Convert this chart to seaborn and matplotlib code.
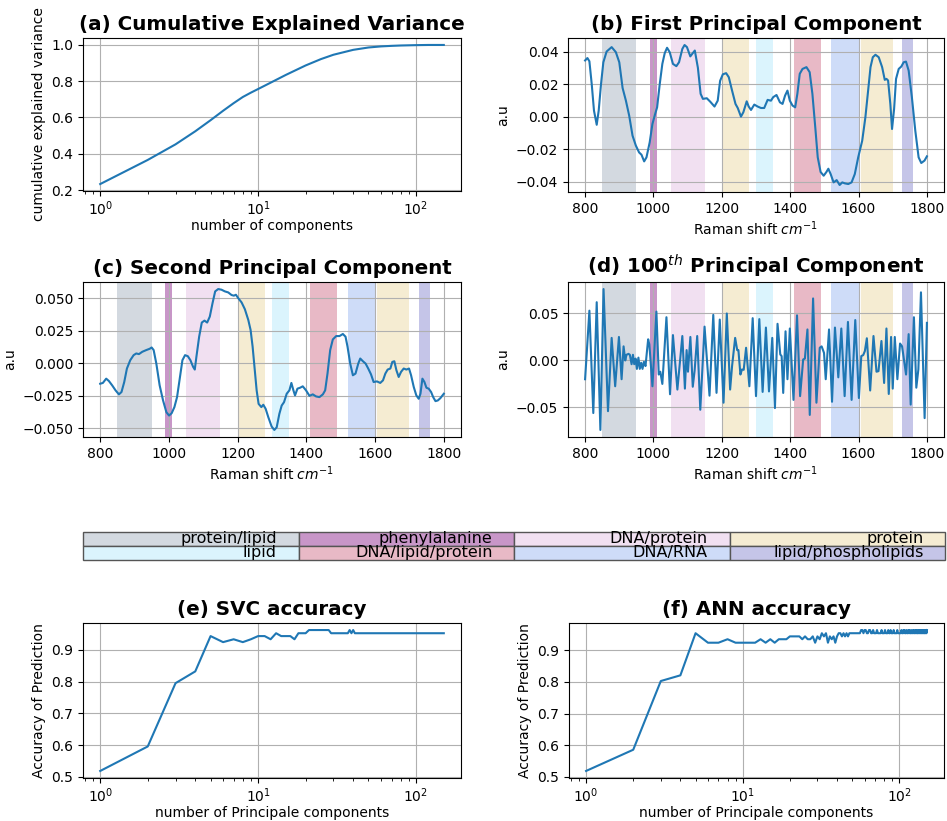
import numpy as np
import pandas as pd
import matplotlib
matplotlib.use("Agg")
import matplotlib.pyplot as plt
import seaborn as sns

# ---------------- data ----------------
# (a) cumulative explained variance
var_n = [1, 2, 3, 4, 5, 6, 7, 8, 9, 10, 12, 15, 20, 25, 30, 40, 50, 60, 70, 80, 100, 120, 150]
var_v = [0.233, 0.366, 0.452, 0.524, 0.585, 0.637, 0.679, 0.713, 0.737, 0.757, 0.792, 0.835,
         0.887, 0.922, 0.946, 0.973, 0.986, 0.992, 0.995, 0.997, 0.999, 1.0, 1.0]

# (b) first principal component
pc1_x = [800, 806.8, 812.6, 819.4, 826, 834, 839.8, 846.6, 853.4, 863, 877.7, 890, 900, 909.7,
         919.4, 929, 938.8, 948.5, 958, 965, 972.8, 979.6, 989, 997, 1004.9, 1010.7, 1018.4, 1026,
         1033, 1039.8, 1047.6, 1057, 1067, 1074.8, 1084.5, 1091, 1098, 1107.8, 1113.6, 1121, 1130,
         1138, 1144.7, 1156, 1166, 1178.6, 1188, 1195, 1203, 1212.6, 1220.4, 1230, 1240, 1246.6,
         1256, 1263, 1272.8, 1278.6, 1285.4, 1295, 1304.8, 1314.6, 1324, 1334, 1343.7, 1350.5, 1360,
         1370, 1377.7, 1385, 1392, 1399, 1406.8, 1414.6, 1421, 1428, 1436, 1447.6, 1457, 1465,
         1473.8, 1480.6, 1489, 1498, 1506, 1511.7, 1518.4, 1527, 1536, 1544.7, 1552.4, 1560, 1570,
         1579.6, 1589, 1599, 1610.7, 1620, 1628, 1635, 1641.7, 1649.5, 1659, 1669, 1676.7, 1681.6,
         1686.4, 1693, 1698, 1704, 1709.7, 1717.5, 1725.2, 1732, 1738.8, 1746.6, 1756, 1766,
         1775.7, 1783.5, 1793, 1800]
pc1_y = [0.0345, 0.036, 0.034, 0.020, 0.0037, -0.005, 0.0037, 0.020, 0.0334, 0.040, 0.0427,
         0.0396, 0.0334, 0.0176, 0.0098, 0.0006, -0.0117, -0.0178, -0.022, -0.0234, -0.0275,
         -0.025, -0.0158, -0.0045, 0.0016, 0.0057, 0.020, 0.0324, 0.039, 0.0423, 0.0396, 0.0324,
         0.031, 0.0334, 0.0416, 0.044, 0.0427, 0.037, 0.0386, 0.0406, 0.030, 0.014, 0.0109, 0.0113,
         0.0092, 0.0062, 0.0098, 0.022, 0.026, 0.0267, 0.0242, 0.016, 0.0078, 0.0053, 0.0, 0.0027,
         0.0094, 0.0062, 0.0041, 0.0074, 0.0062, 0.0053, 0.0053, 0.0103, 0.0098, 0.012, 0.0133,
         0.0088, 0.0078, 0.0129, 0.016, 0.0098, 0.0068, 0.0057, 0.014, 0.0263, 0.0293, 0.0304,
         0.0273, 0.014, -0.0076, -0.025, -0.034, -0.0363, -0.034, -0.032, -0.0353, -0.0404, -0.039,
         -0.042, -0.0404, -0.041, -0.0414, -0.0404, -0.0353, -0.025, -0.0148, -0.0004, 0.016,
         0.0304, 0.0365, 0.038, 0.0365, 0.0304, 0.0226, 0.0232, 0.0222, 0.0078, -0.0076, 0.0047,
         0.0232, 0.0293, 0.0308, 0.0334, 0.0338, 0.0283, 0.012, -0.0086, -0.025, -0.0285, -0.027,
         -0.0244]

# (c) second principal component
pc2_x = [800, 807.8, 817.5, 825.3, 835, 844.7, 854.5, 862, 870, 877.8, 887.5, 897.3, 905, 912.8,
         922.6, 934, 944, 949.8, 955.6, 963.4, 973, 983, 992.6, 1000.4, 1008, 1016, 1023.7, 1031.5,
         1039.3, 1047, 1055, 1062.6, 1070.4, 1075.3, 1080, 1088, 1095.7, 1103.5, 1111.3, 1119, 1127,
         1134.6, 1143.4, 1153, 1162.8, 1172.6, 1182.3, 1189, 1195, 1201.7, 1211.5, 1221, 1231,
         1237.7, 1243.6, 1249.4, 1255.3, 1261, 1269, 1274.7, 1281.5, 1289.3, 1299, 1306.8, 1313.6,
         1321.4, 1328.2, 1335, 1342.8, 1350.6, 1356.4, 1362.3, 1367, 1374, 1381.7, 1389.5, 1399,
         1409, 1418.7, 1428.4, 1438, 1448, 1454.7, 1461.5, 1469.3, 1477, 1486.8, 1496.5, 1506.2,
         1514, 1519.8, 1527.6, 1535.4, 1543, 1551, 1556.8, 1564.6, 1572.4, 1580, 1588, 1595.7,
         1605.4, 1615, 1623, 1629.8, 1636.6, 1644.4, 1650.2, 1656, 1662, 1668.7, 1675.5, 1683.3,
         1691, 1698.8, 1704.7, 1712.5, 1720, 1727, 1732, 1737.7, 1743.6, 1749.4, 1756, 1763, 1769,
         1775.7, 1782.5, 1790, 1800]
pc2_y = [-0.0158, -0.0152, -0.0119, -0.0137, -0.0171, -0.0209, -0.024, -0.0222, -0.0145, -0.0041,
         0.0023, 0.0062, 0.0075, 0.007, 0.0088, 0.0101, 0.0111, 0.0121, 0.0101, -0.0003, -0.017,
         -0.0287, -0.0377, -0.0403, -0.0385, -0.0338, -0.0261, -0.0119, 0.0023, 0.0062, 0.0054,
         0.0023, -0.0028, -0.0049, 0.0049, 0.0204, 0.0313, 0.0328, 0.0313, 0.0359, 0.0463, 0.0553,
         0.0571, 0.0566, 0.0553, 0.0545, 0.0525, 0.052, 0.0527, 0.0501, 0.0468, 0.0416, 0.0333,
         0.0256, 0.0127, -0.0041, -0.0209, -0.0313, -0.0338, -0.032, -0.0351, -0.0416, -0.0488,
         -0.0514, -0.0494, -0.039, -0.0326, -0.030, -0.0235, -0.0209, -0.0152, -0.0209, -0.0248,
         -0.0196, -0.0189, -0.0178, -0.0209, -0.0251, -0.024, -0.0256, -0.0261, -0.024, -0.0209,
         -0.008, 0.0101, 0.0183, 0.0209, 0.0209, 0.0225, 0.0204, 0.0127, -0.0003, -0.0093, -0.008,
         -0.0003, 0.0036, 0.0015, -0.0003, -0.0041, -0.0085, -0.0145, -0.014, -0.0152, -0.0132,
         -0.008, -0.0049, -0.0041, 0.001, 0.0015, -0.0054, -0.0106, -0.0067, -0.0041, -0.0049,
         -0.0041, -0.0093, -0.0183, -0.0248, -0.0274, -0.0235, -0.0119, -0.0145, -0.0189, -0.0196,
         -0.0222, -0.0261, -0.0292, -0.0287, -0.0269, -0.0235]

# (d) 100th principal component
pc100_x = [800, 812.6, 824, 834, 844.7, 854, 867, 877.7, 888, 899, 906.8, 912.6, 917.5, 921, 927,
           931, 936, 940, 943.7, 947.6, 951.5, 956, 960, 964, 968, 972, 976.7, 984.5, 988, 997,
           1008.6, 1015.5, 1020, 1026, 1038, 1048.5, 1057, 1070, 1084.5, 1092, 1097, 1101, 1108,
           1115, 1120.4, 1128, 1137, 1149.5, 1164, 1175, 1184.5, 1194, 1205, 1214.6, 1224.3, 1230,
           1239, 1245, 1248.5, 1254.4, 1259, 1264, 1271, 1280.6, 1290.3, 1300, 1309.7, 1319.4, 1329,
           1338, 1347.6, 1355.4, 1363, 1371, 1375, 1379.6, 1386.4, 1392, 1399, 1409.7, 1420, 1429,
           1438, 1443, 1450.5, 1457.3, 1467, 1476.8, 1486.5, 1492, 1499, 1504, 1513.7, 1522.4, 1531,
           1540.8, 1549.6, 1559.3, 1569, 1579.7, 1590.4, 1601, 1608, 1613.7, 1618.5, 1624.3, 1634,
           1643.7, 1652.5, 1658.3, 1667, 1674.8, 1681.6, 1688.4, 1695.2, 1700, 1706, 1713.6, 1721.4,
           1727.3, 1739, 1746.6, 1752.5, 1762, 1769, 1775, 1782.6, 1793.3, 1800]
pc100_y = [-0.020, 0.053, -0.056, 0.062, -0.074, 0.076, -0.054, 0.024, -0.0275, 0.025, -0.020,
           0.015, 0.0, 0.006, 0.007, 0.006, -0.004, 0.006, -0.004, 0.002, -0.009, 0.003, -0.009,
           -0.0025, -0.009, -0.0015, -0.006, 0.0225, 0.017, -0.0275, 0.052, -0.015, -0.012, -0.025,
           0.046, -0.036, 0.027, -0.031, 0.026, -0.030, 0.011, -0.012, 0.025, -0.028, -0.011, 0.026,
           -0.0525, 0.036, -0.0375, 0.0485, -0.0345, 0.0435, -0.045, 0.050, -0.031, -0.006, 0.024,
           0.011, 0.011, -0.015, -0.0096, -0.010, 0.0135, -0.0275, 0.045, -0.038, 0.044, -0.0335,
           0.035, -0.033, 0.024, -0.0507, 0.039, 0.0064, 0.0046, -0.0346, 0.031, -0.020, 0.034,
           -0.042, 0.048, -0.038, 0.001, 0.002, 0.033, -0.058, 0.066, -0.045, 0.0135, 0.015, 0.008,
           -0.020, 0.033, -0.044, 0.035, -0.018, 0.034, -0.038, 0.041, -0.042, 0.043, -0.040, 0.0046,
           0.0057, 0.010, 0.0236, -0.032, 0.026, -0.012, -0.0114, 0.0207, -0.024, 0.034, -0.0357,
           0.025, -0.030, 0.025, -0.020, 0.018, 0.015, -0.015, 0.028, -0.047, 0.046, -0.029, -0.0096,
           0.0725, -0.0614, 0.040]

# (e) SVC accuracy
svc_n = list(range(1, 43)) + [150]
svc_v = [0.519, 0.596, 0.795, 0.832, 0.943, 0.924, 0.933, 0.924, 0.933, 0.943,
         0.943, 0.933, 0.952, 0.943, 0.943, 0.943, 0.933, 0.952, 0.952, 0.952,
         0.962, 0.962, 0.962, 0.962, 0.962, 0.962, 0.962, 0.962, 0.952, 0.952,
         0.952, 0.952, 0.952, 0.952, 0.952, 0.952, 0.952, 0.962, 0.952, 0.962,
         0.952, 0.952, 0.952]

# (f) ANN accuracy
ann_n = list(range(1, 151))
ann_v = [0.519, 0.586, 0.803, 0.821, 0.954, 0.924, 0.924, 0.935, 0.924, 0.924,
         0.924, 0.924, 0.935, 0.924, 0.935, 0.924, 0.935, 0.935, 0.935, 0.944,
         0.944, 0.944, 0.944, 0.935, 0.944, 0.935, 0.935, 0.944, 0.924, 0.944,
         0.935, 0.954, 0.944, 0.954, 0.924, 0.944, 0.935, 0.944, 0.924, 0.944,
         0.954, 0.954, 0.944, 0.954, 0.944, 0.954, 0.944, 0.954, 0.954, 0.954,
         0.954, 0.954, 0.954, 0.954, 0.954, 0.954, 0.964, 0.964, 0.954, 0.964,
         0.964, 0.954, 0.954, 0.964, 0.964, 0.954, 0.954, 0.964, 0.954, 0.954,
         0.954, 0.964, 0.954, 0.954, 0.954, 0.954, 0.964, 0.954, 0.954, 0.954,
         0.964, 0.954, 0.954, 0.954, 0.964, 0.954, 0.954, 0.964, 0.954, 0.954,
         0.954, 0.964, 0.954, 0.954, 0.954, 0.954, 0.964, 0.954, 0.954, 0.954,
         0.954, 0.954, 0.964, 0.954, 0.954, 0.964, 0.954, 0.964, 0.954, 0.954,
         0.964, 0.954, 0.954, 0.964, 0.954, 0.964, 0.954, 0.954, 0.964, 0.954,
         0.954, 0.964, 0.954, 0.964, 0.954, 0.954, 0.964, 0.954, 0.964, 0.954,
         0.954, 0.964, 0.954, 0.964, 0.954, 0.964, 0.954, 0.954, 0.964, 0.954,
         0.964, 0.954, 0.964, 0.954, 0.954, 0.964, 0.954, 0.964, 0.954, 0.964]

# Raman band regions
band_start = [850, 990, 1050, 1200, 1300, 1410, 1520, 1607, 1728]
band_end = [950, 1010, 1150, 1280, 1350, 1490, 1600, 1700, 1760]
band_label = ["protein/lipid", "phenylalanine", "DNA/protein", "protein", "lipid",
              "DNA/lipid/protein", "DNA/RNA", "protein", "lipid/phospholipids"]
label_colors = {"protein/lipid": "#d3d9e0", "phenylalanine": "#c896c8",
                "DNA/protein": "#f1e0f1", "protein": "#f5ecd2", "lipid": "#dbf4fd",
                "DNA/lipid/protein": "#e8b9c6", "DNA/RNA": "#cedcf8",
                "lipid/phospholipids": "#c5c5e8"}
legend_rows = [["protein/lipid", "phenylalanine", "DNA/protein", "protein"],
               ["lipid", "DNA/lipid/protein", "DNA/RNA", "lipid/phospholipids"]]

# ---------------- plotting ----------------
plt.rcParams['font.family'] = ['DejaVu Sans']
LINE = "#1f77b4"
W, H = 947, 821
fig = plt.figure(figsize=(W / 100, H / 100), dpi=100)


def add(l, t, r, b):
    return fig.add_axes([l / W, 1 - b / H, (r - l) / W, (b - t) / H])


def style(ax, title, xlabel, ylabel, logx=False):
    ax.set_title(title, fontsize=14.3, fontweight="bold")
    ax.set_xlabel(xlabel, fontsize=10, labelpad=1 if logx else 3)
    ax.set_ylabel(ylabel, fontsize=10)
    ax.tick_params(labelsize=10)
    if logx:
        ax.tick_params(axis="x", which="both", pad=2.5)
    ax.grid(True, color="#b0b0b0", linewidth=0.8)


def bands(ax):
    for s, e, lab in zip(band_start, band_end, band_label):
        ax.axvspan(s, e, color=label_colors[lab], linewidth=0, zorder=0.5)


ax_a = add(83, 38, 461, 191)
sns.lineplot(x=var_n, y=var_v, ax=ax_a, color=LINE, linewidth=1.5)
ax_a.set_xscale("log")
style(ax_a, "(a) Cumulative Explained Variance", "number of components",
      "cumulative explained variance", logx=True)

ax_b = add(568, 38, 944, 192)
bands(ax_b)
sns.lineplot(x=pc1_x, y=pc1_y, ax=ax_b, color=LINE, linewidth=1.5)
style(ax_b, "(b) First Principal Component", "Raman shift $cm^{-1}$", "a.u")

ax_c = add(83, 282, 461, 437)
bands(ax_c)
sns.lineplot(x=pc2_x, y=pc2_y, ax=ax_c, color=LINE, linewidth=1.5)
style(ax_c, "(c) Second Principal Component", "Raman shift $cm^{-1}$", "a.u")

ax_d = add(568, 282, 944, 437)
bands(ax_d)
sns.lineplot(x=pc100_x, y=pc100_y, ax=ax_d, color=LINE, linewidth=1.5)
style(ax_d, "(d) 100$^{th}$ Principal Component", "Raman shift $cm^{-1}$", "a.u")

for ax in (ax_b, ax_c, ax_d):
    ax.set_xlim(750, 1850)

# legend table
ax_t = add(83, 532, 945, 560)
ax_t.axis("off")
cell_cols = [[label_colors[l] for l in row] for row in legend_rows]
tbl = ax_t.table(cellText=legend_rows, cellColours=cell_cols, cellLoc="right",
                 bbox=[0, 0, 1, 1])
tbl.auto_set_font_size(False)
tbl.set_fontsize(11.5)
for cell in tbl.get_celld().values():
    cell.set_edgecolor("#555555")
    cell.set_linewidth(1.0)

ax_e = add(83, 623, 461, 778)
sns.lineplot(x=svc_n, y=svc_v, ax=ax_e, color=LINE, linewidth=1.5)
ax_e.set_xscale("log")
style(ax_e, "(e) SVC accuracy", "number of Principale components", "Accuracy of Prediction",
      logx=True)

ax_f = add(569, 623, 944, 778)
sns.lineplot(x=ann_n, y=ann_v, ax=ax_f, color=LINE, linewidth=1.5)
ax_f.set_xscale("log")
style(ax_f, "(f) ANN accuracy", "number of Principale components", "Accuracy of Prediction",
      logx=True)

for ax in (ax_a, ax_e, ax_f):
    ax.set_xlim(10 ** -0.109, 10 ** 2.285)

fig.savefig("out.png", dpi=100)
